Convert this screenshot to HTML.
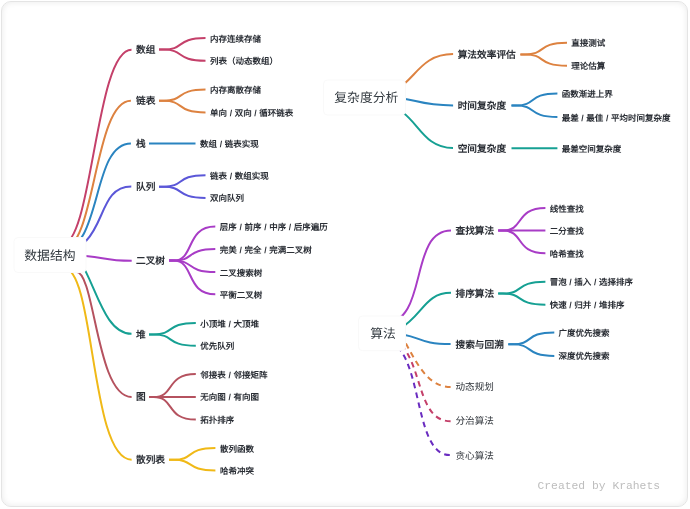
<!DOCTYPE html>
<html lang="zh-CN"><head><meta charset="utf-8">
<style>
html,body{margin:0;padding:0;width:690px;height:509px;overflow:hidden;background:#fff;}
.card{position:absolute;left:1px;top:1px;width:687px;height:506px;border-radius:10px;box-sizing:border-box;
  border:1px solid #e4e4e4;box-shadow:inset 0 0 6px rgba(0,0,0,0.09);background:#fff;}
svg{position:absolute;left:0;top:0;will-change:transform;}
text{font-family:"Liberation Sans",sans-serif;text-rendering:geometricPrecision;}
path{fill:none;stroke-width:2;stroke-linecap:butt;}
.box{fill:#fff;stroke:#f9f9f9;stroke-width:1;}
.foot{position:absolute;left:537.5px;top:478.5px;font-family:"Liberation Mono",monospace;font-size:11.35px;color:#bdbdbd;line-height:14px;white-space:pre;}
</style></head><body>
<div class="card"></div>
<svg width="690" height="509" viewBox="0 0 690 509">
<g><path d="M61.90,244.85C92.68,244.85 95.34,49.70 131.50,49.70" stroke="#c4406a"/><path d="M62.80,249.05C95.66,249.05 93.61,100.80 130.90,100.80" stroke="#dd8240"/><path d="M59.23,251.45C103.17,251.45 90.56,143.40 130.90,143.40" stroke="#2a84c0"/><path d="M53.29,252.96C110.95,252.96 92.01,186.50 131.30,186.50" stroke="#5b57d8"/><path d="M65.87,255.24C106.92,255.24 97.61,260.70 131.70,260.70" stroke="#a83cc6"/><path d="M63.02,250.10C92.37,250.10 95.92,333.80 131.50,333.80" stroke="#16a093"/><path d="M76.14,271.86C95.11,271.86 96.28,397.00 131.60,397.00" stroke="#b5525f"/><path d="M63.91,268.03C95.16,268.03 90.06,459.70 131.60,459.70" stroke="#f0b917"/><path d="M371.90,95.99C414.97,95.99 411.80,54.10 453.10,54.10" stroke="#dd8240"/><path d="M378.11,96.79C418.62,96.79 412.38,105.40 453.10,105.40" stroke="#2a84c0"/><path d="M383.73,106.45C416.94,106.45 416.88,148.00 453.00,148.00" stroke="#16a093"/><path d="M383.28,323.57C429.60,323.57 407.80,230.60 451.00,230.60" stroke="#a83cc6"/><path d="M359.63,337.37C425.17,337.37 414.14,292.80 451.00,292.80" stroke="#16a093"/><path d="M376.09,332.68C425.11,332.68 411.40,344.10 450.60,344.10" stroke="#2a84c0"/><path d="M450.60,387.10C413.51,387.10 406.04,321.07 384.28,321.07" stroke="#dd8240" stroke-dasharray="5.6 4.4" stroke-linecap="butt" stroke-width="2.2"/><path d="M450.60,421.20C408.44,421.20 428.84,332.38 372.75,332.38" stroke="#c4406a" stroke-dasharray="5.6 4.4" stroke-linecap="butt" stroke-width="2.2"/><path d="M449.80,455.10C410.75,455.10 424.78,340.26 382.29,340.26" stroke="#6a2cc0" stroke-dasharray="5.6 4.4" stroke-linecap="butt" stroke-width="2.2"/><path d="M159.00,49.60H163.65C185.04,49.60 175.28,38.10 205.50,38.10" stroke="#c4406a"/><path d="M159.00,49.60H163.65C185.04,49.60 175.28,60.80 205.50,60.80" stroke="#c4406a"/><path d="M159.00,100.80H163.65C185.04,100.80 175.28,89.60 205.50,89.60" stroke="#dd8240"/><path d="M159.00,100.80H163.65C185.04,100.80 175.28,112.40 205.50,112.40" stroke="#dd8240"/><path d="M149.00,143.50H195.50" stroke="#2a84c0"/><path d="M159.00,186.70H163.65C185.04,186.70 175.28,175.20 205.50,175.20" stroke="#5b57d8"/><path d="M159.00,186.70H163.65C185.04,186.70 175.28,197.90 205.50,197.90" stroke="#5b57d8"/><path d="M169.00,260.60H173.63C194.93,260.60 185.21,226.50 215.30,226.50" stroke="#a83cc6"/><path d="M169.00,260.60H173.63C194.93,260.60 185.21,249.10 215.30,249.10" stroke="#a83cc6"/><path d="M169.00,260.60H173.63C194.93,260.60 185.21,272.00 215.30,272.00" stroke="#a83cc6"/><path d="M169.00,260.60H173.63C194.93,260.60 185.21,294.30 215.30,294.30" stroke="#a83cc6"/><path d="M149.00,334.40H153.68C175.21,334.40 165.38,323.00 195.80,323.00" stroke="#16a093"/><path d="M149.00,334.40H153.68C175.21,334.40 165.38,345.70 195.80,345.70" stroke="#16a093"/><path d="M149.00,397.00H153.68C175.21,397.00 165.38,374.10 195.80,374.10" stroke="#b5525f"/><path d="M149.00,397.00H195.80" stroke="#b5525f"/><path d="M149.00,397.00H153.68C175.21,397.00 165.38,419.60 195.80,419.60" stroke="#b5525f"/><path d="M169.00,459.80H173.64C194.98,459.80 185.24,448.00 215.40,448.00" stroke="#f0b917"/><path d="M169.00,459.80H173.64C194.98,459.80 185.24,470.40 215.40,470.40" stroke="#f0b917"/><path d="M520.40,54.40H525.06C546.50,54.40 536.71,42.80 567.00,42.80" stroke="#dd8240"/><path d="M520.40,54.40H525.06C546.50,54.40 536.71,65.70 567.00,65.70" stroke="#dd8240"/><path d="M511.50,105.50H516.09C537.20,105.50 527.56,93.50 557.40,93.50" stroke="#2a84c0"/><path d="M511.50,105.50H516.09C537.20,105.50 527.56,117.00 557.40,117.00" stroke="#2a84c0"/><path d="M511.50,148.20H557.40" stroke="#16a093"/><path d="M498.20,230.60H502.92C524.63,230.60 514.72,208.00 545.40,208.00" stroke="#a83cc6"/><path d="M498.20,230.60H545.40" stroke="#a83cc6"/><path d="M498.20,230.60H502.92C524.63,230.60 514.72,253.30 545.40,253.30" stroke="#a83cc6"/><path d="M498.20,293.50H502.92C524.63,293.50 514.72,281.80 545.40,281.80" stroke="#16a093"/><path d="M498.20,293.50H502.92C524.63,293.50 514.72,304.70 545.40,304.70" stroke="#16a093"/><path d="M508.30,344.30H512.90C534.06,344.30 524.40,332.40 554.30,332.40" stroke="#2a84c0"/><path d="M508.30,344.30H512.90C534.06,344.30 524.40,355.90 554.30,355.90" stroke="#2a84c0"/></g>
<g><rect class="box" x="14" y="237.5" width="72" height="35" rx="4"/><rect class="box" x="323.5" y="80" width="82" height="35" rx="4"/><rect class="box" x="358.5" y="316" width="47" height="34.7" rx="4"/></g>
<g><text x="24.3" y="259.61" font-size="12.8" font-weight="400" fill="#333a40">数据结构</text><text x="136" y="53.09" font-size="9.7" font-weight="700" fill="#2b2f36">数组</text><text x="136" y="104.29" font-size="9.7" font-weight="700" fill="#2b2f36">链表</text><text x="136" y="146.99" font-size="9.7" font-weight="700" fill="#2b2f36">栈</text><text x="136" y="190.19" font-size="9.7" font-weight="700" fill="#2b2f36">队列</text><text x="136" y="264.09" font-size="9.7" font-weight="700" fill="#2b2f36">二叉树</text><text x="136" y="337.89" font-size="9.7" font-weight="700" fill="#2b2f36">堆</text><text x="136" y="400.49" font-size="9.7" font-weight="700" fill="#2b2f36">图</text><text x="136" y="463.29" font-size="9.7" font-weight="700" fill="#2b2f36">散列表</text><text x="210.0" y="41.66" font-size="8.5" font-weight="700" fill="#2b2f36" word-spacing="0.3">内存连续存储</text><text x="210.0" y="64.36" font-size="8.5" font-weight="700" fill="#2b2f36" word-spacing="0.3">列表（动态数组）</text><text x="210.0" y="93.16" font-size="8.5" font-weight="700" fill="#2b2f36" word-spacing="0.3">内存离散存储</text><text x="210.0" y="115.96" font-size="8.5" font-weight="700" fill="#2b2f36" word-spacing="0.3">单向 / 双向 / 循环链表</text><text x="200.0" y="146.86" font-size="8.5" font-weight="700" fill="#2b2f36" word-spacing="0.3">数组 / 链表实现</text><text x="210.0" y="178.76" font-size="8.5" font-weight="700" fill="#2b2f36" word-spacing="0.3">链表 / 数组实现</text><text x="210.0" y="201.46" font-size="8.5" font-weight="700" fill="#2b2f36" word-spacing="0.3">双向队列</text><text x="219.8" y="230.06" font-size="8.5" font-weight="700" fill="#2b2f36" word-spacing="0.3">层序 / 前序 / 中序 / 后序遍历</text><text x="219.8" y="252.66" font-size="8.5" font-weight="700" fill="#2b2f36" word-spacing="0.3">完美 / 完全 / 完满二叉树</text><text x="219.8" y="275.56" font-size="8.5" font-weight="700" fill="#2b2f36" word-spacing="0.3">二叉搜索树</text><text x="219.8" y="297.86" font-size="8.5" font-weight="700" fill="#2b2f36" word-spacing="0.3">平衡二叉树</text><text x="200.3" y="326.56" font-size="8.5" font-weight="700" fill="#2b2f36" word-spacing="0.3">小顶堆 / 大顶堆</text><text x="200.3" y="349.26" font-size="8.5" font-weight="700" fill="#2b2f36" word-spacing="0.3">优先队列</text><text x="200.3" y="377.66" font-size="8.5" font-weight="700" fill="#2b2f36" word-spacing="0.3">邻接表 / 邻接矩阵</text><text x="200.3" y="400.36" font-size="8.5" font-weight="700" fill="#2b2f36" word-spacing="0.3">无向图 / 有向图</text><text x="200.3" y="423.16" font-size="8.5" font-weight="700" fill="#2b2f36" word-spacing="0.3">拓扑排序</text><text x="219.9" y="451.56" font-size="8.5" font-weight="700" fill="#2b2f36" word-spacing="0.3">散列函数</text><text x="219.9" y="473.96" font-size="8.5" font-weight="700" fill="#2b2f36" word-spacing="0.3">哈希冲突</text><text x="334.3" y="101.61" font-size="12.8" font-weight="400" fill="#333a40">复杂度分析</text><text x="457.7" y="57.89" font-size="9.7" font-weight="700" fill="#2b2f36">算法效率评估</text><text x="457.7" y="108.99" font-size="9.7" font-weight="700" fill="#2b2f36">时间复杂度</text><text x="457.7" y="151.69" font-size="9.7" font-weight="700" fill="#2b2f36">空间复杂度</text><text x="571.3" y="46.36" font-size="8.5" font-weight="700" fill="#2b2f36" word-spacing="0.3">直接测试</text><text x="571.3" y="69.26" font-size="8.5" font-weight="700" fill="#2b2f36" word-spacing="0.3">理论估算</text><text x="561.6999999999999" y="97.06" font-size="8.5" font-weight="700" fill="#2b2f36" word-spacing="0.3">函数渐进上界</text><text x="561.6999999999999" y="120.56" font-size="8.5" font-weight="700" fill="#2b2f36" word-spacing="0.3">最差 / 最佳 / 平均时间复杂度</text><text x="561.6999999999999" y="151.56" font-size="8.5" font-weight="700" fill="#2b2f36" word-spacing="0.3">最差空间复杂度</text><text x="370.3" y="337.61" font-size="12.8" font-weight="400" fill="#333a40">算法</text><text x="455.5" y="234.09" font-size="9.7" font-weight="700" fill="#2b2f36">查找算法</text><text x="455.5" y="296.99" font-size="9.7" font-weight="700" fill="#2b2f36">排序算法</text><text x="455.5" y="347.99" font-size="9.7" font-weight="700" fill="#2b2f36">搜索与回溯</text><text x="455.5" y="390.36" font-size="9.6" font-weight="400" fill="#2d3238">动态规划</text><text x="455.5" y="424.46" font-size="9.6" font-weight="400" fill="#2d3238">分治算法</text><text x="455.5" y="459.06" font-size="9.6" font-weight="400" fill="#2d3238">贪心算法</text><text x="549.6999999999999" y="211.56" font-size="8.5" font-weight="700" fill="#2b2f36" word-spacing="0.3">线性查找</text><text x="549.6999999999999" y="234.36" font-size="8.5" font-weight="700" fill="#2b2f36" word-spacing="0.3">二分查找</text><text x="549.6999999999999" y="256.86" font-size="8.5" font-weight="700" fill="#2b2f36" word-spacing="0.3">哈希查找</text><text x="549.6999999999999" y="285.36" font-size="8.5" font-weight="700" fill="#2b2f36" word-spacing="0.3">冒泡 / 插入 / 选择排序</text><text x="549.6999999999999" y="308.26" font-size="8.5" font-weight="700" fill="#2b2f36" word-spacing="0.3">快速 / 归并 / 堆排序</text><text x="558.5999999999999" y="335.96" font-size="8.5" font-weight="700" fill="#2b2f36" word-spacing="0.3">广度优先搜索</text><text x="558.5999999999999" y="359.46" font-size="8.5" font-weight="700" fill="#2b2f36" word-spacing="0.3">深度优先搜索</text></g>
</svg>
<div class="foot">Created by Krahets</div>
</body></html>
